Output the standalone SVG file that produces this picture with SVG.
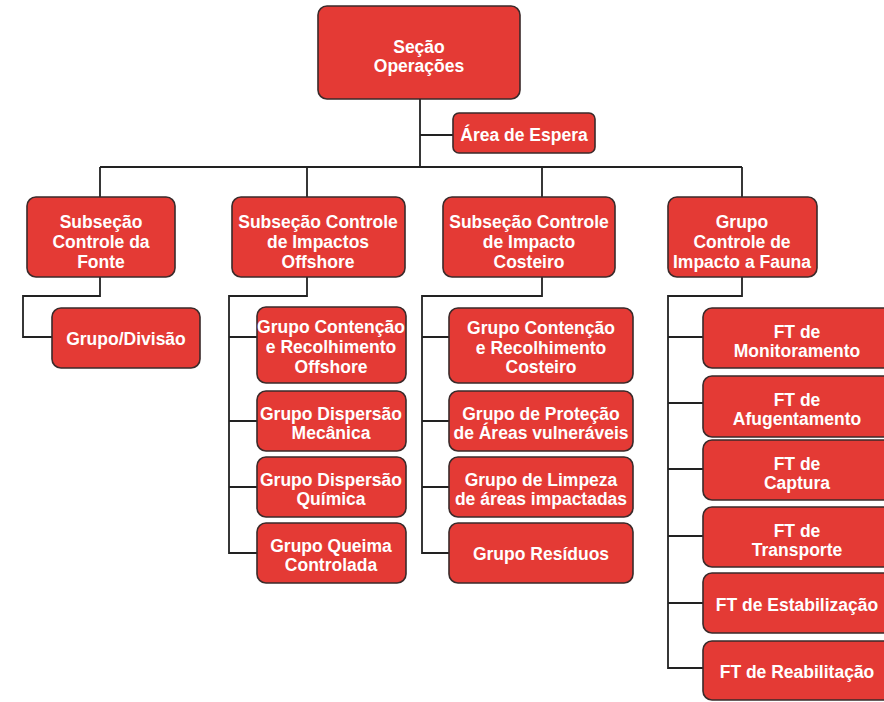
<svg xmlns="http://www.w3.org/2000/svg" width="884" height="702" viewBox="0 0 884 702">
<style>
.box{fill:#E43A35;stroke:#3a2a2a;stroke-width:1.6}
.t{font-family:"Liberation Sans",Arial,sans-serif;font-weight:bold;font-size:17.5px;fill:#fff;text-anchor:middle}
.c{fill:none;stroke:#222;stroke-width:1.8}
</style>
<rect width="884" height="702" fill="#fff"/>
<g id="connectors">
<path class="c" d="M420,99 V167 M420,135 H453 M100,167 H742 M100,167 V197 M307,167 V197 M542,167 V197 M742,167 V197"/>
<path class="c" d="M100,277 V296 H23 V337 H52"/>
<path class="c" d="M307,277 V296 H229 V553 H257 M229,337 H257 M229,421 H257 M229,487 H257"/>
<path class="c" d="M542,277 V296 H422 V553 H449 M422,337 H449 M422,421 H449 M422,487 H449"/>
<path class="c" d="M742,277 V296 H668 V668 H703 M668,337 H703 M668,403 H703 M668,469 H703 M668,536 H703 M668,603 H703"/>
</g>
<g id="secao"><rect class="box" x="318" y="6" width="202" height="93" rx="9"/><text class="t" x="419" y="53">Seção</text><text class="t" x="419" y="72">Operações</text></g>
<g id="area"><rect class="box" x="453" y="113" width="142" height="40" rx="6"/><text class="t" x="524" y="141">Área de Espera</text></g>
<g id="fonte"><rect class="box" x="27" y="197" width="148" height="80" rx="9"/><text class="t" x="101" y="228">Subseção</text><text class="t" x="101" y="248">Controle da</text><text class="t" x="101" y="268">Fonte</text></g>
<g id="offshore"><rect class="box" x="232" y="197" width="173" height="80" rx="9"/><text class="t" x="318" y="228">Subseção Controle</text><text class="t" x="318" y="248">de Impactos</text><text class="t" x="318" y="268">Offshore</text></g>
<g id="costeiro"><rect class="box" x="443" y="197" width="172" height="80" rx="9"/><text class="t" x="529" y="228">Subseção Controle</text><text class="t" x="529" y="248">de Impacto</text><text class="t" x="529" y="268">Costeiro</text></g>
<g id="fauna"><rect class="box" x="668" y="197" width="149" height="80" rx="9"/><text class="t" x="742" y="228">Grupo</text><text class="t" x="742" y="248">Controle de</text><text class="t" x="742" y="268">Impacto a Fauna</text></g>
<g id="grupo-divisao"><rect class="box" x="52" y="308" width="148" height="60" rx="9"/><text class="t" x="126" y="345">Grupo/Divisão</text></g>
<g id="contencao-offshore"><rect class="box" x="257" y="307" width="149" height="76" rx="9"/><text class="t" x="331" y="333">Grupo Contenção</text><text class="t" x="331" y="353">e Recolhimento</text><text class="t" x="331" y="373">Offshore</text></g>
<g id="dispersao-mecanica"><rect class="box" x="257" y="391" width="149" height="60" rx="9"/><text class="t" x="331" y="420">Grupo Dispersão</text><text class="t" x="331" y="439">Mecânica</text></g>
<g id="dispersao-quimica"><rect class="box" x="257" y="457" width="149" height="60" rx="9"/><text class="t" x="331" y="486">Grupo Dispersão</text><text class="t" x="331" y="505">Química</text></g>
<g id="queima"><rect class="box" x="257" y="523" width="149" height="60" rx="9"/><text class="t" x="331" y="552">Grupo Queima</text><text class="t" x="331" y="571">Controlada</text></g>
<g id="contencao-costeiro"><rect class="box" x="449" y="308" width="184" height="75" rx="9"/><text class="t" x="541" y="334">Grupo Contenção</text><text class="t" x="541" y="354">e Recolhimento</text><text class="t" x="541" y="373">Costeiro</text></g>
<g id="protecao"><rect class="box" x="449" y="391" width="184" height="60" rx="9"/><text class="t" x="541" y="420">Grupo de Proteção</text><text class="t" x="541" y="439">de Áreas vulneráveis</text></g>
<g id="limpeza"><rect class="box" x="449" y="457" width="184" height="60" rx="9"/><text class="t" x="541" y="486">Grupo de Limpeza</text><text class="t" x="541" y="505">de áreas impactadas</text></g>
<g id="residuos"><rect class="box" x="449" y="523" width="184" height="60" rx="9"/><text class="t" x="541" y="560">Grupo Resíduos</text></g>
<g id="monitoramento"><rect class="box" x="703" y="308" width="190" height="60" rx="9"/><text class="t" x="797" y="338">FT de</text><text class="t" x="797" y="357">Monitoramento</text></g>
<g id="afugentamento"><rect class="box" x="703" y="376" width="190" height="61" rx="9"/><text class="t" x="797" y="406">FT de</text><text class="t" x="797" y="425">Afugentamento</text></g>
<g id="captura"><rect class="box" x="703" y="440" width="190" height="60" rx="9"/><text class="t" x="797" y="470">FT de</text><text class="t" x="797" y="489">Captura</text></g>
<g id="transporte"><rect class="box" x="703" y="507" width="190" height="60" rx="9"/><text class="t" x="797" y="537">FT de</text><text class="t" x="797" y="556">Transporte</text></g>
<g id="estabilizacao"><rect class="box" x="703" y="573" width="190" height="60" rx="9"/><text class="t" x="797" y="611">FT de Estabilização</text></g>
<g id="reabilitacao"><rect class="box" x="703" y="641" width="190" height="59" rx="9"/><text class="t" x="797" y="678">FT de Reabilitação</text></g>
</svg>
